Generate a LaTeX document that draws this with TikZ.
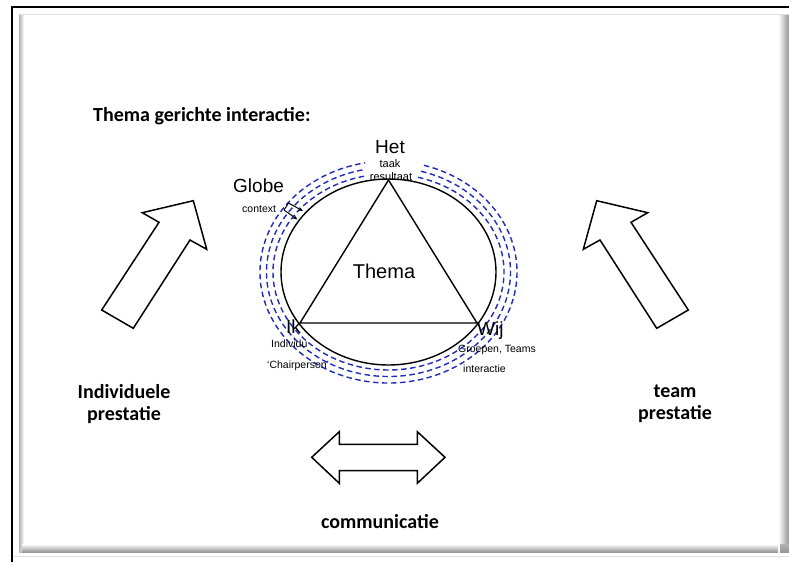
\documentclass[tikz,border=0pt]{standalone}
\usepackage{fontspec}
\setmainfont{Liberation Sans}
\newfontfamily\calib{Carlito}
\usetikzlibrary{shapes.geometric,arrows.meta}
\definecolor{ringblue}{RGB}{32,44,186}
\definecolor{bevel}{RGB}{150,150,150}
\tikzset{
  boldlabel/.style={font=\calib\bfseries\fontsize{20}{22}\selectfont, inner sep=0pt, align=center},
  biglabel/.style={font=\fontsize{19}{21}\selectfont, inner sep=0pt, anchor=base},
  smalllabel/.style={font=\fontsize{10.5}{12}\selectfont, inner sep=0pt, anchor=base west},
  ring/.style={draw=ringblue, line width=1.4pt, dash pattern=on 5.5pt off 3.5pt},
  blockarrow/.style={draw=black, fill=white, line width=1.5pt, line join=miter},
  ctxarrow/.style={draw=black, line width=1pt, -{Stealth[length=5pt,width=4pt]}}
}
\begin{document}
\begin{tikzpicture}[x=1pt,y=-1pt]
\useasboundingbox (0,0) rectangle (789,562);
\fill[white] (0,0) rectangle (789,562);

% framed panel with bevelled inner edges
\draw[black, line width=2.4pt] (12,562) -- (12,7) -- (789,7);
\draw[gray!25, line width=0.8pt] (19,14) -- (789,14);
\draw[gray!25, line width=0.8pt] (14,556) -- (789,556);
\shade[left color=gray!60, right color=white] (19,15) rectangle (24,552);
\shade[top color=white, bottom color=bevel] (22,544) rectangle (780,552);
\shade[left color=white, right color=bevel] (778,15) rectangle (789,552);
\shade[top color=gray!60, bottom color=bevel] (780,544) rectangle (789,552);

% title
\node[boldlabel, anchor=base west] (title) at (93,121) {Thema gerichte interactie:};

% globe and theme triangle
\node[draw, ellipse, line width=1.4pt, minimum width=215pt, minimum height=186pt, inner sep=0pt] (globe) at (388.5,272) {};
\coordinate (het) at (388.5,180);
\coordinate (ik) at (300,323);
\coordinate (wij) at (477,323);
\draw[line width=1.4pt, line join=miter] (het) -- (ik) -- (wij) -- cycle;

% context rings
\draw[ring] (388.5,272) ++(284.8:115.5 and 98) arc[start angle=284.8, end angle=618.3, x radius=115.5, y radius=98];
\draw[ring] (388.5,272) ++(285.5:122 and 104.5) arc[start angle=285.5, end angle=619, x radius=122, y radius=104.5];
\draw[ring] (388.5,272) ++(286:128.5 and 111) arc[start angle=286, end angle=619.5, x radius=128.5, y radius=111];

% labels on the globe
\node[biglabel] (hetlbl) at (390,153) {Het};
\node[font=\fontsize{11}{12}\selectfont, inner sep=0pt, anchor=base] (taak) at (390,167) {taak};
\node[font=\fontsize{11}{12}\selectfont, inner sep=0pt, anchor=base] (result) at (391,180) {resultaat};
\node[biglabel, anchor=base west] (globelbl) at (233,192) {Globe};
\node[smalllabel] (context) at (242,212) {context};
\node[font=\fontsize{20}{22}\selectfont, inner sep=0pt, anchor=base] (thema) at (384,278) {Thema};
\node[biglabel, anchor=base west] (iklbl) at (286,333) {Ik};
\node[biglabel, anchor=base west] (wijlbl) at (477,335) {Wij};
\node[smalllabel] (individu) at (271,347) {Individu};
\node[smalllabel] (chair) at (267,368) {‘Chairperson’};
\node[smalllabel] (groepen) at (458,352) {Groepen, Teams};
\node[smalllabel] (inter) at (463,372) {interactie};

% context pointers towards the globe
\coordinate (c1) at (288.5,203);
\coordinate (c2) at (284,210);
\coordinate (c1e) at (303,211);
\coordinate (c2e) at (297.5,219.5);
\draw[line width=1pt] (c1) -- (c2);
\draw[ctxarrow] (c1) -- (c1e);
\draw[ctxarrow] (c2) -- (c2e);

% block arrows
\draw[blockarrow] (101.7,310) -- (159,222.3) -- (142.3,212.7) -- (193.3,200.7) -- (206.7,249.3) -- (190,240) -- (133.3,328.3) -- cycle;
\draw[blockarrow] (688.3,310) -- (631,222.3) -- (647.7,212.7) -- (596.7,200.7) -- (583.3,249.3) -- (600,240) -- (656.7,328.3) -- cycle;
\draw[blockarrow] (311.7,457.3) -- (339.3,431.7) -- (339.3,444.3) -- (417.3,444.3) -- (417.3,431.7) -- (445,457.3) -- (417.3,483.3) -- (417.3,470.7) -- (339.3,470.7) -- (339.3,483.3) -- cycle;

% outcome labels
\node[boldlabel, anchor=center] (indiv) at (124,404) {Individuele\\prestatie};
\node[boldlabel, anchor=center] (team) at (675,404) {team\\prestatie};
\node[boldlabel, anchor=base] (comm) at (380,528) {communicatie};
\end{tikzpicture}
\end{document}
